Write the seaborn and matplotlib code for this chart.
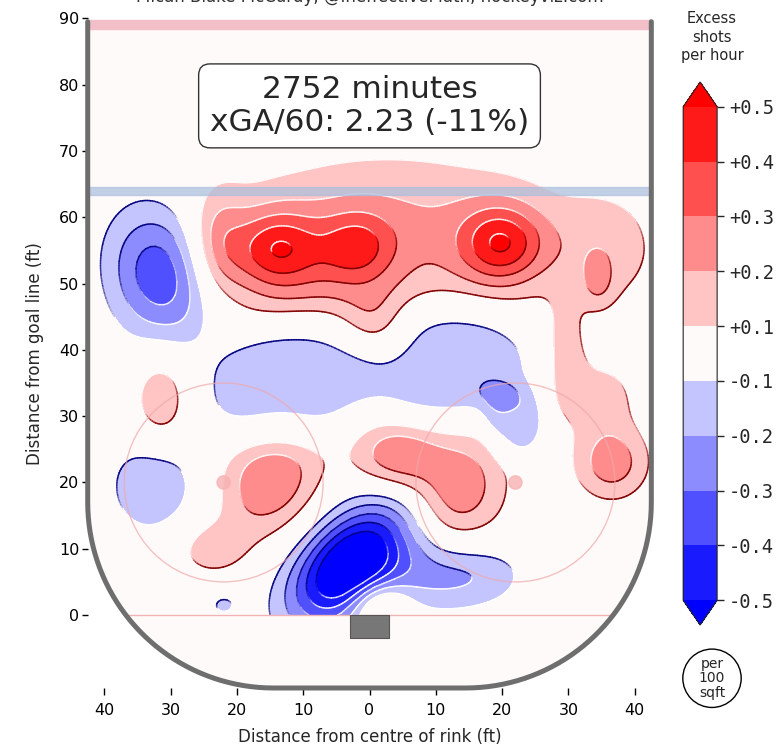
import numpy as np
import matplotlib
matplotlib.use("Agg")
import matplotlib.pyplot as plt
from matplotlib.patches import Rectangle, Circle, PathPatch
from matplotlib.path import Path
from matplotlib.collections import LineCollection
import seaborn as sns

# smoothed excess shot rate, read off the picture as a handful of bumps
# (centre in ft, height in excess shots per hour per 100 sqft, spread in ft, tilt in deg,
#  shape 1 = round bump, 2 = flat-topped patch)
blob_x     = [-31.5,  -14,   -2,   20,    3,  -23,    1, 35.5, 34.5, 29.5,  36.5,  -12, 11.5,   22, 18.5, -31.5, -32.5,  -15,  -24,    4,  13.5,   -3,    10,  1.5,  -22,  -12,   35,    18]
blob_y     = [ 51.3, 55.5, 55.5,   56,   58,   56,   43,   55,   50,   39,    23,   35,   38,   29, 33.5,  32.7,  19.5, 20.5,   10, 24.2,   19,  7.5,     6,  1.5,  1.5,   50,   33,     6]
blob_amp   = [-0.40, 0.32, 0.24, 0.38, 0.22, 0.20, 0.16, 0.14, 0.12, 0.14,  0.26, -0.18, -0.18, -0.16, -0.09, 0.19, -0.19, 0.30, 0.15, 0.27, 0.27, -0.70, -0.20, 0.25, -0.13, 0.10, 0.14, -0.10]
blob_sx    = [  5.5,  4.5,    4,  4.5,   18,    3,  3.5,  5.5,  1.7,  2.2,     4,   11, 11.5,    4,  1.8,     3,     5,    5,    4,  4.6,    5,  4.5,     6,    3,  1.5,    9,    4,     5]
blob_sy    = [  7.5,    4,  3.8,  4.2,  8.5,  5.5,    4,    6,  2.6,    6,     4,    8,    8,    5,  1.5,   5.5,   5.5,  6.2,    3,  3.6,  6.2,  7.5,     4,  2.5,  1.2,    5,    4,   3.5]
blob_rot   = [   15,    0,    0,    0,    0,    0,    0,    0,    0,    0,     0,   20,    0,    0,    0,     0,     0,  -30,    0,    0,  -15,  -45,     0,    0,    0,    0,   30,     0]
blob_shape = [    1,    1,    1,    1,    1,    1,    1,    1,    1,    1,     1,    2,    2,    2,    1,     1,     1,    1,    1,    1,    1,    1,     1,    1,    1,    1,    1,     1]

levels = [-0.5, -0.4, -0.3, -0.2, -0.1, 0.1, 0.2, 0.3, 0.4, 0.5]
level_colors = ["#0000ff", "#1a1aff", "#5050ff", "#8c8cff", "#c4c4ff", "#fffafa",
                "#ffc4c4", "#ff8c8c", "#ff5050", "#ff1a1a", "#ff0000"]
cbar_labels = ["-0.5", "-0.4", "-0.3", "-0.2", "-0.1", "+0.1", "+0.2", "+0.3", "+0.4", "+0.5"]

minutes = 2752
xga60 = 2.23
xga_pct = -11

x_ticks = [-40, -30, -20, -10, 0, 10, 20, 30, 40]
y_ticks = [0, 10, 20, 30, 40, 50, 60, 70, 80, 90]

sns.set_style("white")

fig = plt.figure(figsize=(7.79, 7.47), dpi=100)
ax = fig.add_axes([0.1126, 0.079, 0.7235, 0.8964])
ax.set_xlim(-42.5, 42.5)
ax.set_ylim(-11, 90)

# build the surface from the bumps
xx = np.linspace(-42.5, 42.5, 341)
yy = np.linspace(0, 89, 357)
X, Y = np.meshgrid(xx, yy)
Z = np.zeros_like(X)
for bx, by, a, sx, sy, r, p in zip(blob_x, blob_y, blob_amp, blob_sx, blob_sy, blob_rot, blob_shape):
    t = np.deg2rad(r)
    dx, dy = X - bx, Y - by
    u = dx * np.cos(t) + dy * np.sin(t)
    v = -dx * np.sin(t) + dy * np.cos(t)
    q = (u / sx) ** 2 + (v / sy) ** 2
    Z += a * np.exp(-0.5 * q ** p)

# rink outline (boards)
t1 = np.linspace(np.pi, 1.5 * np.pi, 40)
t2 = np.linspace(1.5 * np.pi, 2 * np.pi, 40)
left_corner = np.column_stack([-14.5 + 28 * np.cos(t1), 17 + 28 * np.sin(t1)])
right_corner = np.column_stack([14.5 + 28 * np.cos(t2), 17 + 28 * np.sin(t2)])
boards = np.vstack([[-42.5, 89.5], left_corner, right_corner, [42.5, 89.5]])

ax.fill(boards[:, 0], boards[:, 1], color="#fffafa", zorder=0, clip_on=False)
rink_clip = PathPatch(Path(np.vstack([boards, boards[:1]])), transform=ax.transData)

cs = ax.contourf(X, Y, Z, levels=levels, colors=level_colors, extend="both", zorder=1)
cs.set_clip_path(rink_clip)

# embossed edges: dark where the surface faces the bottom-right, light on the other side
ln = ax.contour(X, Y, Z, levels=levels, zorder=2)
gy, gx = np.gradient(Z, yy, xx)
light = np.array([-0.6, 1.0]) / np.hypot(0.6, 1.0)
segs, cols = [], []
for lev, path in zip(ln.levels, ln.get_paths()):
    dark = (0.5, 0.0, 0.0) if lev > 0 else (0.0, 0.0, 0.5)
    for poly in path.to_polygons(closed_only=False):
        if len(poly) < 2:
            continue
        ix = np.clip(np.searchsorted(xx, poly[:, 0]), 0, len(xx) - 1)
        iy = np.clip(np.searchsorted(yy, poly[:, 1]), 0, len(yy) - 1)
        g1, g2 = gx[iy, ix], gy[iy, ix]
        s = (g1 * light[0] + g2 * light[1]) / (np.hypot(g1, g2) + 1e-9)
        s = 0.5 * (s[:-1] + s[1:])
        for p0, p1, sv in zip(poly[:-1], poly[1:], s):
            segs.append([p0, p1])
            if sv > 0:
                cols.append((*dark, min(0.9, 0.1 + sv)))
            else:
                cols.append((1, 1, 1, min(0.8, -sv)))
ln.remove()
lc = LineCollection(segs, colors=cols, linewidths=1.1, zorder=2, capstyle="round")
ax.add_collection(lc)
lc.set_clip_path(rink_clip)

# rink markings
ax.add_patch(Rectangle((-42.5, 88.4), 85, 1.4, color="#f2bfc8", zorder=3))
ax.add_patch(Rectangle((-42.5, 63.3), 85, 1.3, color="#a9bfdd", alpha=0.7, zorder=3))
ax.plot([-36.7, 36.7], [0, 0], color="#f0b4b4", lw=1, zorder=3)
for cx in (-22, 22):
    ax.add_patch(Circle((cx, 20), 15, fill=False, ec="#f0a8a8", lw=1, alpha=0.7, zorder=3))
    ax.add_patch(Circle((cx, 20), 1, color="#f7b2b2", alpha=0.8, zorder=3))
ax.add_patch(Rectangle((-3, -3.5), 6, 3.5, fc="#777777", ec="#555555", lw=0.8, zorder=4))
ax.plot(boards[:, 0], boards[:, 1], color="#6e6e6e", lw=3.6, zorder=6, clip_on=False)

ax.text(0, 76.8, f"{minutes} minutes\nxGA/60: {xga60:.2f} ({xga_pct}%)",
        ha="center", va="center", fontsize=22.5, linespacing=1.15, zorder=7,
        bbox=dict(boxstyle="round,pad=0.36", fc="white", ec="#333333", lw=1))

ax.set_xticks(x_ticks)
ax.set_xticklabels([str(abs(v)) for v in x_ticks])
ax.set_yticks(y_ticks)
ax.tick_params(left=True, length=4, width=1, labelsize=11.5, colors="black", pad=2)
ax.tick_params(axis="x", bottom=True, length=5, pad=6)
for s in ax.spines.values():
    s.set_visible(False)
ax.set_xlabel("Distance from centre of rink (ft)", fontsize=12, labelpad=7)
ax.set_ylabel("Distance from goal line (ft)", fontsize=12, labelpad=11)

# colour bar
cax = fig.add_axes([0.877, 0.1633, 0.0436, 0.7269])
cb = fig.colorbar(cs, cax=cax, ticks=levels)
cb.ax.set_yticklabels(cbar_labels, family="DejaVu Sans Mono", fontsize=13.5)
cb.ax.tick_params(right=True, length=5, width=1)
cb.outline.set_linewidth(0.8)

fig.text(0.914, 0.95, "Excess\nshots\nper hour", ha="center", va="center", fontsize=10.5, linespacing=1.3)
fig.text(0.914, 0.092, "per\n100\nsqft", ha="center", va="center", fontsize=10, linespacing=1.05,
         bbox=dict(boxstyle="circle,pad=0.55", fc="white", ec="black", lw=1))
fig.text(0.475, 0.997, "Micah Blake McCurdy, @IneffectiveMath, hockeyviz.com",
         ha="center", va="baseline", fontsize=12, color="#333333")

fig.savefig("out.png", dpi=100, facecolor="white")
